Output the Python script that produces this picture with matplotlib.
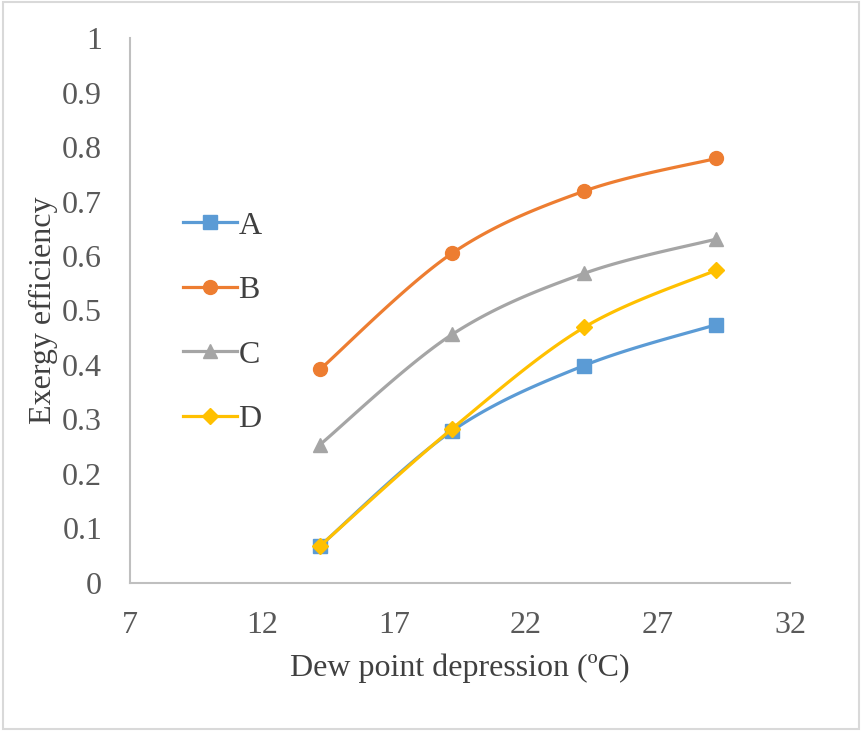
import numpy as np
from matplotlib import pyplot as plt
from matplotlib.patches import Rectangle

plt.rcParams['font.family'] = ['Liberation Serif', 'DejaVu Serif']

dew_depression = [14.2, 19.2, 24.2, 29.2]
eff_a = [0.068, 0.279, 0.399, 0.474]
eff_b = [0.392, 0.605, 0.719, 0.779]
eff_c = [0.254, 0.456, 0.568, 0.631]
eff_d = [0.068, 0.283, 0.469, 0.574]

series = [
    ('A', eff_a, '#5B9BD5', 's', 10),
    ('B', eff_b, '#ED7D31', 'o', 10),
    ('C', eff_c, '#A5A5A5', '^', 10),
    ('D', eff_d, '#FFC000', 'D', 8),
]


def smooth(x, y, n=40):
    # spreadsheet-style smoothed line: cubic bezier with catmull-rom handles
    p = np.column_stack([x, y]).astype(float)
    pts = np.vstack([p[0], p, p[-1]])
    out = []
    t = np.linspace(0, 1, n)[:, None]
    for i in range(1, len(pts) - 2):
        p0, p1, p2, p3 = pts[i - 1], pts[i], pts[i + 1], pts[i + 2]
        c1 = p1 + (p2 - p0) / 6
        c2 = p2 - (p3 - p1) / 6
        seg = ((1 - t) ** 3) * p1 + 3 * ((1 - t) ** 2) * t * c1 \
            + 3 * (1 - t) * t ** 2 * c2 + t ** 3 * p2
        out.append(seg if i == 1 else seg[1:])
    seg = np.vstack(out)
    return seg[:, 0], seg[:, 1]


fig = plt.figure(figsize=(8.62, 7.31), dpi=100)
ax = fig.add_axes([0.1508, 0.2025, 0.7657, 0.7455])

for name, vals, col, mk, ms in series:
    sx, sy = smooth(dew_depression, vals)
    ax.plot(sx, sy, color=col, lw=2.3, solid_capstyle='round')
    ax.plot(dew_depression, vals, ls='none', marker=mk, ms=ms, color=col)
    # proxy for the legend
    ax.plot([], [], color=col, lw=2.3, marker=mk, ms=ms, label=name)

ax.set_xlim(7, 32)
ax.set_ylim(0, 1)
ax.set_xticks(np.arange(7, 33, 5))
ax.set_yticks(np.round(np.arange(0, 1.01, 0.1), 1))
ax.set_yticklabels(['0'] + [f'{v:.1f}' for v in np.arange(0.1, 0.95, 0.1)] + ['1'])

for s in ['top', 'right']:
    ax.spines[s].set_visible(False)
for s in ['left', 'bottom']:
    ax.spines[s].set_color('#BFBFBF')
    ax.spines[s].set_linewidth(1.5)
ax.tick_params(length=0, labelsize=23, colors='#595959', pad=20)

ax.set_xlabel('Dew point depression (ºC)', fontsize=23, color='#404040', labelpad=10)
ax.set_ylabel('Exergy efficiency', fontsize=23, color='#404040', labelpad=3)

leg = ax.legend(loc='upper left', bbox_to_anchor=(0.036, 0.735), frameon=False,
                fontsize=23, handlelength=1.7, handletextpad=0.05,
                labelspacing=1.1, labelcolor='#404040')

fig.patches.append(Rectangle((0.003, 0.003), 0.994, 0.994, transform=fig.transFigure,
                             fill=False, edgecolor='#D9D9D9', lw=1.5))

fig.savefig('out.png', dpi=100)
